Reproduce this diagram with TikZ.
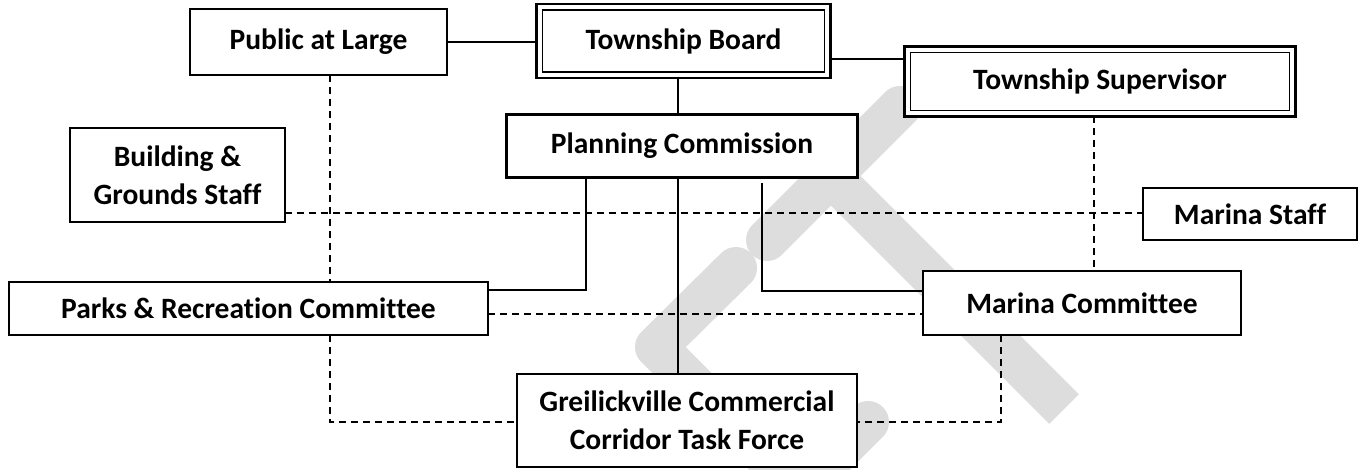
\documentclass[tikz,border=0pt]{standalone}
\usepackage{fontspec}
\setmainfont[Ligatures=NoCommon]{Carlito}
\usetikzlibrary{calc,backgrounds}
\definecolor{wm}{RGB}{221,221,221}
\begin{document}
\begin{tikzpicture}[x=1pt,y=-1pt,
  box/.style={draw, fill=white, line width=1.9pt, outer sep=0pt, inner sep=0pt,
    align=center, font=\fontsize{29.5}{38}\selectfont\bfseries},
  dbox/.style={box, line width=2.6pt},
  pbox/.style={box, line width=3pt},
  link/.style={line width=1.5pt},
  dlink/.style={line width=1.7pt, dash pattern=on 7pt off 5pt},
  wmstroke/.style={wm, line width=42pt, line join=round}
]
\useasboundingbox (0,0) rectangle (1360,470);

% boxes
\node[box, minimum width=257pt, minimum height=66pt] (pub) at (318.5,42) {Public at Large};
\node[dbox, minimum width=294pt, minimum height=74pt] (board) at (683.5,41) {Township Board};
\node[dbox, minimum width=391pt, minimum height=70pt] (sup) at (1100,81.5) {Township Supervisor};
\node[pbox, minimum width=351pt, minimum height=63pt] (plan) at (682,146) {Planning Commission};
\node[box, minimum width=215pt, minimum height=94pt] (bld) at (177.5,175) {Building \&\\Grounds Staff};
\node[box, minimum width=214pt, minimum height=52pt] (mstaff) at (1250,214) {Marina Staff};
\node[box, minimum width=479pt, minimum height=53pt] (parks) at (248.5,308.5) {Parks \& Recreation Committee};
\node[box, minimum width=318pt, minimum height=64pt] (mcom) at (1082,303) {Marina Committee};
\node[box, minimum width=340pt, minimum height=93pt] (grc) at (687,420.5) {Greilickville Commercial\\Corridor Task Force};

% inner rules of the double frames
\draw[line width=1.8pt] ([shift={(6pt,-6pt)}]board.north west) rectangle ([shift={(-6pt,6pt)}]board.south east);
\draw[line width=1.8pt] ([shift={(6pt,-6pt)}]sup.north west) rectangle ([shift={(-6pt,6pt)}]sup.south east);

% guide coordinates for the connector runs
\coordinate (sx) at (678,0);
\coordinate (pk) at (586,290);
\coordinate (mk) at (762,291);
\coordinate (mtop) at (762,183);
\coordinate (dv) at (330,0);
\coordinate (dm) at (1001,0);
\coordinate (ds) at (1094,0);
\coordinate (gy) at (0,422);
\coordinate (sy) at (0,213);
\coordinate (ry) at (0,314);
\coordinate (by) at (0,59);

% connectors
\draw[link] (pub.east) -- (pub.east -| board.west);
\draw[link] (board.east |- by) -- (sup.west |- by);
\draw[link] (sx |- board.south) -- (sx |- plan.north);
\draw[link] (sx |- plan.south) -- (sx |- grc.north);
\draw[link] (pk |- plan.south) -- (pk) -- (pk -| parks.east);
\draw[link] (mtop) -- (mk) -- (mk -| mcom.west);
\draw[dlink] (dv |- pub.south) -- (dv |- parks.north);
\draw[dlink] (dv |- parks.south) -- (dv |- gy) -- (gy -| grc.west);
\draw[dlink] (dm |- mcom.south) -- (dm |- gy) -- (gy -| grc.east);
\draw[dlink] (ds |- sup.south) -- (ds |- mcom.north);
\draw[dlink] (sy -| bld.east) -- (sy -| mstaff.west);
\draw[dlink] (ry -| parks.east) -- (ry -| mcom.west);

% faint lettering behind everything
\begin{pgfonlayer}{background}
\fill[white] (0,0) rectangle (1360,470);
\draw[wmstroke, line cap=round] (767,240) -- (900,107);
\draw[wmstroke, line cap=butt] (831,176) -- (1064,409);
\draw[wmstroke, line cap=round] (736,268) -- (656,347) -- (900,591);
\draw[wmstroke, line cap=round] (800,490) -- (868,422);
\end{pgfonlayer}
\end{tikzpicture}
\end{document}
